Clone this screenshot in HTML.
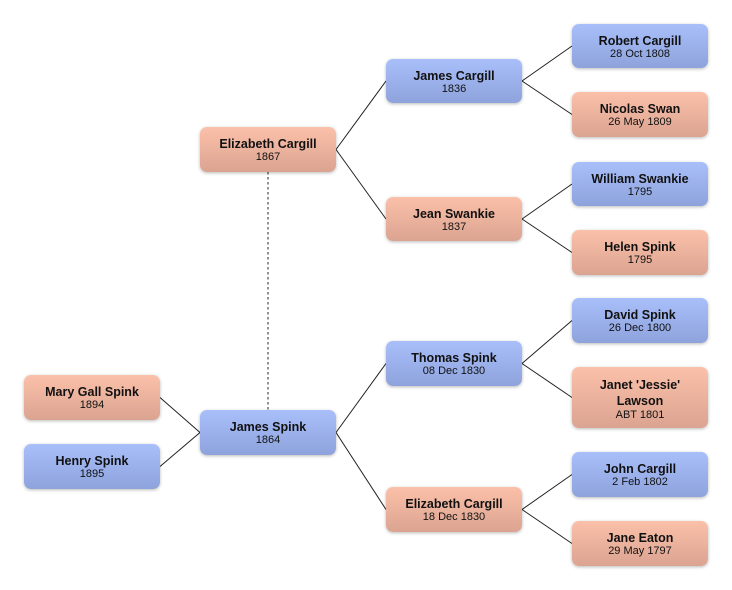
<!DOCTYPE html>
<html><head><meta charset="utf-8">
<style>
html,body{margin:0;padding:0;background:#fff;}
body{width:732px;height:590px;position:relative;overflow:hidden;font-family:"Liberation Sans",sans-serif;}
.b{position:absolute;width:136px;box-sizing:border-box;padding-top:3px;border-radius:7px;box-shadow:0 1px 3px rgba(0,0,0,0.28);display:flex;flex-direction:column;align-items:center;justify-content:center;text-align:center;color:#111;}
.m{background:linear-gradient(#a9bffa,#8ea3dc);}
.f{background:linear-gradient(#fbc0a9,#dba491);}
.n{font-weight:bold;font-size:12.5px;line-height:13px;}
.d{font-size:11px;line-height:13px;}
svg{position:absolute;left:0;top:0;}
</style></head><body>
<svg width="732" height="590">
<g stroke="#222" stroke-width="1" fill="none">
<path d="M336 149.5 L386 81 M336 149.5 L386 219"/>
<path d="M522 81 L572 46 M522 81 L572 114.5"/>
<path d="M522 219 L572 184 M522 219 L572 252.5"/>
<path d="M336 432.5 L386 363.5 M336 432.5 L386 509.5"/>
<path d="M522 363.5 L572 320.5 M522 363.5 L572 397.5"/>
<path d="M522 509.5 L572 474.5 M522 509.5 L572 543.5"/>
<path d="M160 397.5 L200 432.5 M160 466.5 L200 432.5"/>
</g>
<line x1="268" y1="172" x2="268" y2="410" stroke="#777" stroke-width="1.6" stroke-dasharray="2.5 2.5"/>
</svg>

<div class="b f" style="left:24px;top:375px;height:45px"><div class="n">Mary Gall Spink</div><div class="d">1894</div></div>
<div class="b m" style="left:24px;top:444px;height:45px"><div class="n">Henry Spink</div><div class="d">1895</div></div>

<div class="b f" style="left:200px;top:127px;height:45px"><div class="n">Elizabeth Cargill</div><div class="d">1867</div></div>
<div class="b m" style="left:200px;top:410px;height:45px"><div class="n">James Spink</div><div class="d">1864</div></div>

<div class="b m" style="left:386px;top:59px;height:44px"><div class="n">James Cargill</div><div class="d">1836</div></div>
<div class="b f" style="left:386px;top:197px;height:44px"><div class="n">Jean Swankie</div><div class="d">1837</div></div>
<div class="b m" style="left:386px;top:341px;height:45px"><div class="n">Thomas Spink</div><div class="d">08 Dec 1830</div></div>
<div class="b f" style="left:386px;top:487px;height:45px"><div class="n">Elizabeth Cargill</div><div class="d">18 Dec 1830</div></div>

<div class="b m" style="left:572px;top:24px;height:44px"><div class="n">Robert Cargill</div><div class="d">28 Oct 1808</div></div>
<div class="b f" style="left:572px;top:92px;height:45px"><div class="n">Nicolas Swan</div><div class="d">26 May 1809</div></div>
<div class="b m" style="left:572px;top:162px;height:44px"><div class="n">William Swankie</div><div class="d">1795</div></div>
<div class="b f" style="left:572px;top:230px;height:45px"><div class="n">Helen Spink</div><div class="d">1795</div></div>
<div class="b m" style="left:572px;top:298px;height:45px"><div class="n">David Spink</div><div class="d">26 Dec 1800</div></div>
<div class="b f" style="left:572px;top:367px;height:61px"><div class="n" style="line-height:16px">Janet 'Jessie'<br>Lawson</div><div class="d">ABT 1801</div></div>
<div class="b m" style="left:572px;top:452px;height:45px"><div class="n">John Cargill</div><div class="d">2 Feb 1802</div></div>
<div class="b f" style="left:572px;top:521px;height:45px"><div class="n">Jane Eaton</div><div class="d">29 May 1797</div></div>
</body></html>
